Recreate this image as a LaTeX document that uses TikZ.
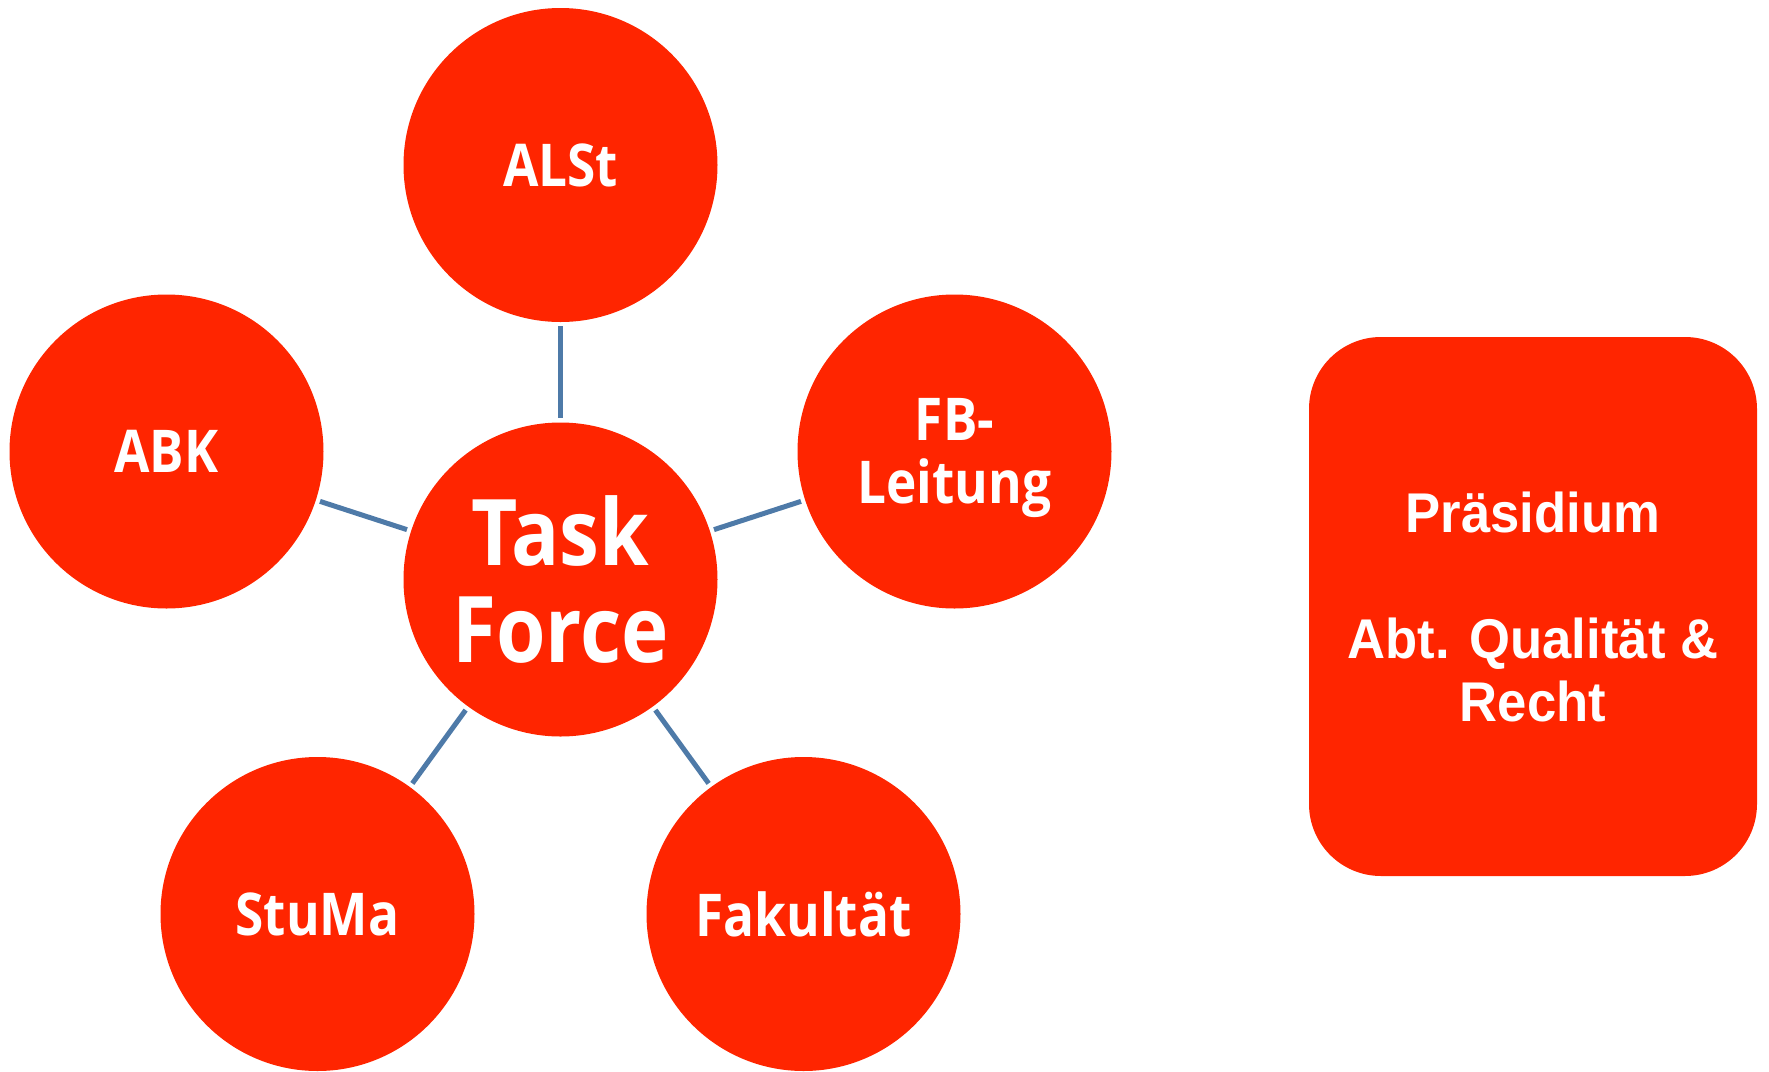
\documentclass[tikz,border=0pt]{standalone}
\usepackage{fontspec}
\setmainfont{Open Sans}[FakeStretch=0.87]
\newfontfamily\boxfont{Liberation Sans}[FakeStretch=0.94]
\definecolor{fillred}{HTML}{FF2500}
\definecolor{linkblue}{HTML}{4E7AA8}
\begin{document}
\begin{tikzpicture}[x=0.5pt,y=-0.5pt,
  bubble/.style={circle, fill=fillred, minimum size=157pt, inner sep=0pt, text=white, align=center,
    font=\bfseries\fontsize{29.5pt}{31.5pt}\selectfont},
  bigbubble/.style={bubble, font=\bfseries\fontsize{46pt}{48.5pt}\selectfont},
  panel/.style={rectangle, rounded corners=36pt, fill=fillred, minimum width=224pt, minimum height=269.5pt,
    inner sep=0pt, text=white, align=center, font=\boxfont\bfseries\fontsize{28pt}{31.5pt}\selectfont},
  link/.style={draw=linkblue, line width=2.5pt, shorten >=2pt, shorten <=2pt}]
\useasboundingbox (0,0) rectangle (1769,1072);
\node[bubble] (alst) at (560.5,165) {ALSt};
\node[bubble] (abk) at (166.5,451.5) {ABK};
\node[bubble] (fb) at (954.5,451.5) {FB-\\Leitun\smash{g}};
\node[bigbubble] (tf) at (560.5,579.5) {Task\\Force};
\node[bubble] (stuma) at (317.5,914) {StuMa};
\node[bubble] (fak) at (803.5,914) {Fakultät};
\node[panel] (pr) at (1533,606.5) {Präsidium\\[31.5pt]Abt. Qualität \&\\Recht};
\draw[link] (alst) -- (tf);
\draw[link] (abk) -- (tf);
\draw[link] (fb) -- (tf);
\draw[link] (stuma) -- (tf);
\draw[link] (fak) -- (tf);
\end{tikzpicture}
\end{document}
